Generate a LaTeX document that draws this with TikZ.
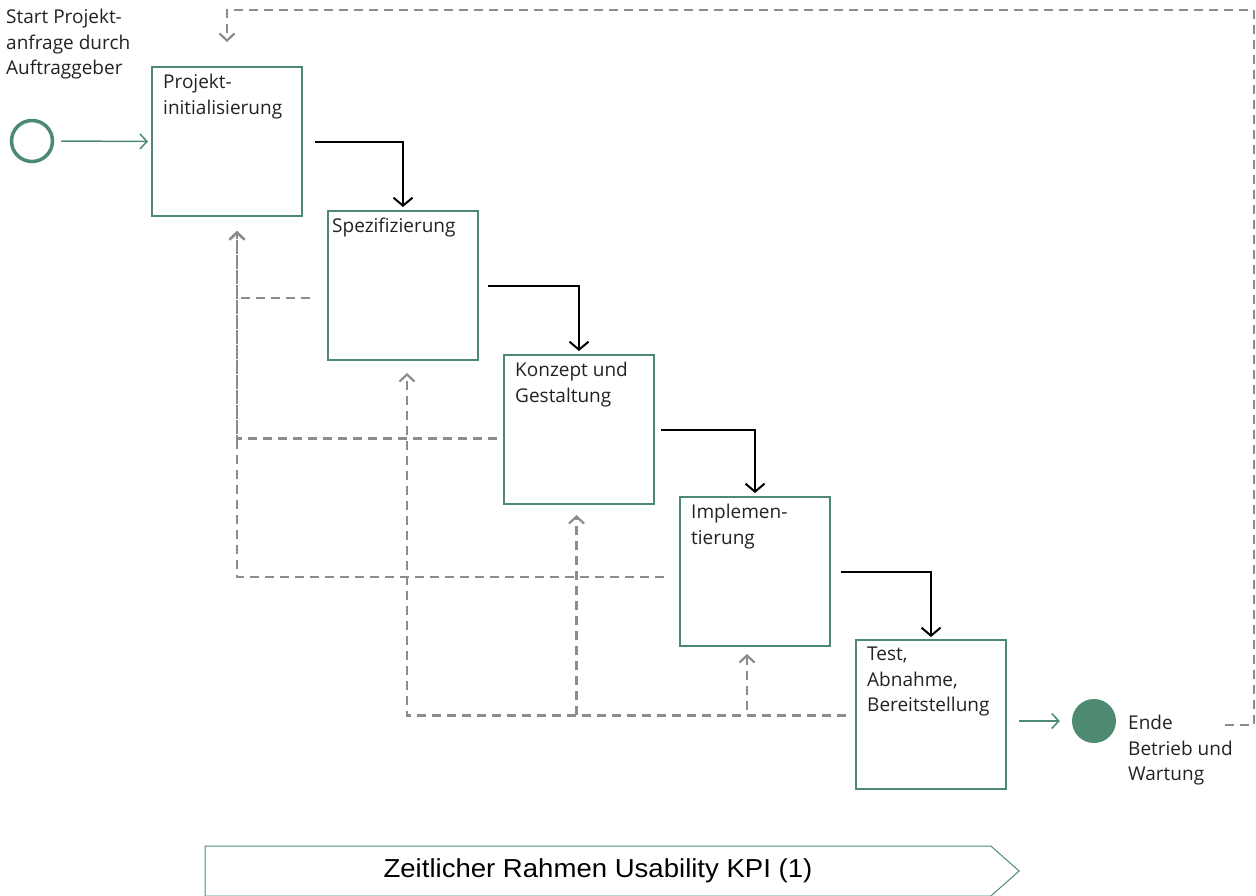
\documentclass[tikz,border=0pt]{standalone}
\usepackage{fontspec}
\setmainfont{Open Sans}
\newfontfamily\kpifont[FakeStretch=1.06]{Liberation Sans}
\usetikzlibrary{positioning,arrows.meta,shapes.symbols,calc}
\definecolor{stepgreen}{RGB}{78,138,114}
\definecolor{loopgray}{RGB}{140,140,140}
\definecolor{txt}{RGB}{34,34,34}

\begin{document}
\begin{tikzpicture}[
  x=1pt, y=-1pt,
  font=\fontsize{19}{25.5}\selectfont, text=txt,
  phase/.style={draw=stepgreen, line width=1.6pt, minimum width=150pt, minimum height=149pt, inner sep=0pt, outer sep=0pt},
  ptext/.style={anchor=north west, inner sep=0pt, align=left, xshift=11pt, yshift=-7pt},
  flow/.style={-{Straight Barb[length=8pt,width=19pt]}, line width=2pt},
  back/.style={-{Straight Barb[length=7pt,width=15pt]}, draw=loopgray, line width=2.2pt, dash pattern=on 9pt off 6pt},
  ev/.style={-{Straight Barb[length=7pt,width=15pt]}, draw=stepgreen, line width=1.5pt},
]
  \useasboundingbox (0,0) rectangle (1256,895);

  % phases
  \node[phase, anchor=north west] (b1) at (152,67) {};
  \node[phase, below right=-5pt and 26pt of b1] (b2) {};
  \node[phase, below right=-5pt and 26pt of b2] (b3) {};
  \node[phase, below right=-7pt and 26pt of b3] (b4) {};
  \node[phase, below right=-6pt and 26pt of b4] (b5) {};
  \node[ptext] (t1) at (b1.north west) {Projekt-\\initialisierung};
  \node[ptext, xshift=-7pt] (t2) at (b2.north west) {Spezifizierung};
  \node[ptext] (t3) at (b3.north west) {Konzept und\\Gestaltung};
  \node[ptext] (t4) at (b4.north west) {Implemen-\\tierung};
  \node[ptext] (t5) at (b5.north west) {Test,\\Abnahme,\\Bereitstellung};

  % start / end
  \node[circle, draw=stepgreen, line width=3.5pt, minimum size=41pt, inner sep=0pt] (start) at (32,141) {};
  \node[circle, fill=stepgreen, minimum size=44pt, inner sep=0pt] (endc) at (1094,721) {};
  \node[anchor=north west, align=left, inner sep=0pt] (startlbl) at (6,9) {Start Projekt-\\anfrage durch\\Auftraggeber};
  \node[anchor=north west, align=left, inner sep=0pt] (endlbl) at (1128,715) {Ende\\Betrieb und\\Wartung};
  \coordinate (loopstart) at (1225,725);

  \draw[ev, shorten <=7pt, shorten >=4pt] (start.east) -- (b1.west);
  \draw[ev, shorten <=13pt, shorten >=12pt] (b5.east |- endc) -- (endc.west);

  % forward flow
  \draw[flow] ([xshift=13pt]b1.east) -| ([yshift=4pt]b2.north);
  \draw[flow] ([xshift=10pt]b2.east) -| ([yshift=4pt]b3.north);
  \draw[flow] ([xshift=7pt]b3.east) -| ([yshift=4pt]b4.north);
  \draw[flow] ([xshift=11pt]b4.east) -| ([yshift=3pt]b5.north);

  % feedback loops
  \draw[back] ([xshift=-18pt,yshift=-12.5pt]b2.west) -| ([xshift=10pt,yshift=-15pt]b1.south);
  \draw[back] ([xshift=-7pt,yshift=-9pt]b3.west) -| ([xshift=10pt,yshift=-15pt]b1.south);
  \draw[back] ([xshift=-16pt,yshift=-5.5pt]b4.west) -| ([xshift=10pt,yshift=-15pt]b1.south);
  \draw[back] ([xshift=-10pt,yshift=-1pt]b5.west) -| ([xshift=4pt,yshift=-13pt]b2.south);
  \draw[back] ([xshift=-10pt,yshift=-1pt]b5.west) -| ([xshift=-2.5pt,yshift=-11pt]b3.south);
  \draw[back] ([xshift=-10pt,yshift=-1pt]b5.west) -| ([xshift=-8pt,yshift=-8pt]b4.south);
  \draw[back] (loopstart) -- ++(29,0) -- ++(0,-715) -| ([yshift=25pt]b1.north);

  % time frame
  \node[signal, signal to=east, signal pointer angle=83, draw=stepgreen, line width=1pt,
        minimum width=814pt, minimum height=50pt, inner sep=0pt,
        font=\kpifont\fontsize{26}{30}\selectfont, text=black] (kpi) at (598,871) {Zeitlicher Rahmen Usability KPI (1)};
\end{tikzpicture}
\end{document}
